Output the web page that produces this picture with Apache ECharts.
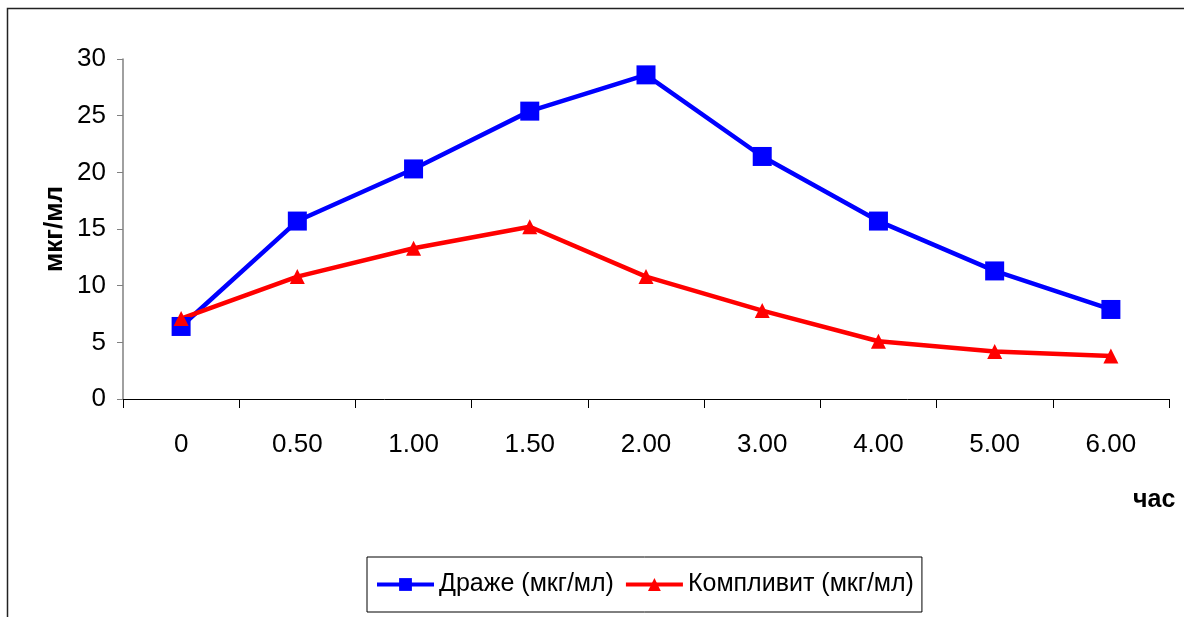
<!DOCTYPE html>
<html>
<head>
<meta charset="utf-8">
<script src="https://cdn.jsdelivr.net/npm/echarts@6/dist/echarts.min.js"></script>
<style>
html,body{margin:0;padding:0;background:#fff;}
#chart{width:1184px;height:617px;}
</style>
</head>
<body>
<div id="chart"></div>
<script>
const categories = ['0', '0.50', '1.00', '1.50', '2.00', '3.00', '4.00', '5.00', '6.00'];
const dragee = [6.4, 15.7, 20.3, 25.4, 28.6, 21.4, 15.7, 11.3, 7.9];
const complivit = [7.1, 10.8, 13.3, 15.2, 10.8, 7.8, 5.1, 4.2, 3.8];
const seriesNames = ['Драже (мкг/мл)', 'Компливит (мкг/мл)'];
const yTicks = [0, 5, 10, 15, 20, 25, 30];

const FONT = '"Liberation Sans", Arial, sans-serif';
const chart = echarts.init(document.getElementById('chart'));
chart.setOption({
  animation: false,
  backgroundColor: '#fff',
  grid: { left: 123, top: 59, right: 15, bottom: 218 },
  legend: {
    left: 367, top: 557,
    padding: [15, 8, 15, 8],
    borderColor: '#000', borderWidth: 1,
    itemWidth: 57, itemHeight: 16, itemGap: 10,
    lineStyle: { width: 4 },
    textStyle: { fontFamily: FONT, fontSize: 25, color: '#000' },
    data: seriesNames
  },
  xAxis: {
    type: 'category',
    data: categories,
    boundaryGap: true,
    axisLine: { lineStyle: { color: '#000', width: 1 } },
    axisTick: { show: true, length: 9, lineStyle: { color: '#000' } },
    axisLabel: { fontFamily: FONT, fontSize: 26, color: '#000', margin: 33 },
    splitLine: { show: false }
  },
  yAxis: {
    type: 'value',
    min: yTicks[0], max: yTicks[yTicks.length - 1], interval: 5,
    name: 'мкг/мл',
    nameLocation: 'middle',
    nameRotate: 90,
    nameGap: 55,
    nameMoveOverlap: false,
    nameTextStyle: { fontFamily: FONT, fontSize: 26, fontWeight: 'bold', color: '#000' },
    axisLine: { show: true, lineStyle: { color: '#808080', width: 1.5 } },
    axisTick: { show: true, length: 6, lineStyle: { color: '#808080' } },
    axisLabel: { fontFamily: FONT, fontSize: 26, color: '#000', margin: 17 },
    splitLine: { show: false }
  },
  graphic: [
    { type: 'rect', shape: { x: 7.5, y: 8.5, width: 1300, height: 800 }, style: { fill: 'none', stroke: '#222', lineWidth: 1.5 }, silent: true },
    { type: 'text', left: 1133, top: 488, style: { text: 'час', font: 'bold 25px "Liberation Sans", Arial, sans-serif', fill: '#000' } }
  ],
  series: [
    {
      name: seriesNames[0], type: 'line', data: dragee,
      symbol: 'rect', symbolSize: 19,
      itemStyle: { color: '#0000ff' },
      lineStyle: { color: '#0000ff', width: 4.5 }
    },
    {
      name: seriesNames[1], type: 'line', data: complivit,
      symbol: 'triangle', symbolSize: 15,
      itemStyle: { color: '#ff0000' },
      lineStyle: { color: '#ff0000', width: 4.5 }
    }
  ]
});
</script>
</body>
</html>
